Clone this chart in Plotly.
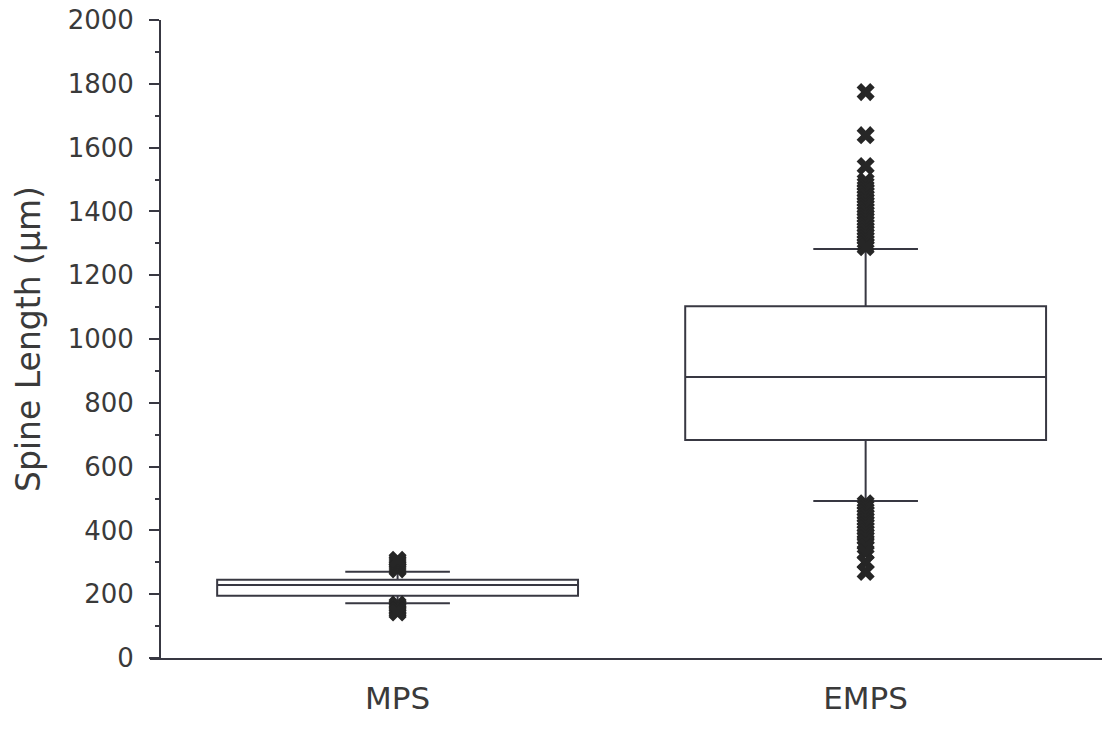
import plotly.graph_objects as go

# ---- data ----
categories = ["MPS", "EMPS"]
q1_vals = [195, 683]
median_vals = [229, 881]
q3_vals = [245, 1103]
lower_fence = [172, 492]
upper_fence = [270, 1282]

mps_outliers = [278, 284, 290, 296, 302, 308, 168, 163, 158, 153, 148, 143]
emps_outliers = [1774, 1639, 1542, 1495, 1485, 1475, 1465, 1455, 1445, 1435,
                 1425, 1415, 1405, 1395, 1385, 1375, 1365, 1355, 1345, 1335,
                 1325, 1315, 1305, 1295, 1288,
                 485, 475, 465, 455, 445, 435, 425, 415, 405, 395, 385, 375,
                 362, 348, 330, 300, 270]

y_ticks = list(range(0, 2001, 200))

line_col = "#383842"
text_col = "#3a3a3a"
font_family = "DejaVu Sans"

fig = go.Figure()

fig.add_trace(go.Box(
    x=categories,
    q1=q1_vals, median=median_vals, q3=q3_vals,
    lowerfence=lower_fence, upperfence=upper_fence,
    boxpoints=False,
    width=0.771,
    whiskerwidth=0.29,
    fillcolor="rgba(255,255,255,0)",
    line=dict(color=line_col, width=2),
    showlegend=False,
    hoverinfo="skip",
))

fig.add_trace(go.Scatter(
    x=["MPS"] * len(mps_outliers) + ["EMPS"] * len(emps_outliers),
    y=mps_outliers + emps_outliers,
    mode="markers",
    marker=dict(symbol="x", size=16, color="#262626", line=dict(width=0)),
    showlegend=False,
    hoverinfo="skip",
))

fig.update_layout(
    width=1112, height=730,
    margin=dict(l=150, r=10, t=20, b=72, autoexpand=False),
    paper_bgcolor="white", plot_bgcolor="white",
    font=dict(family=font_family, color=text_col),
)

fig.update_xaxes(
    type="category",
    categoryorder="array", categoryarray=categories,
    range=[-0.529, 1.505],
    showline=True, linecolor=line_col, linewidth=2,
    ticks="", showgrid=False, zeroline=False,
    tickfont=dict(size=31, family=font_family, color=text_col),
    ticklabelstandoff=12,
    automargin=False,
)

fig.update_yaxes(
    range=[0, 2000],
    tickvals=y_ticks,
    anchor="free", position=10 / 952,
    showline=True, linecolor=line_col, linewidth=2,
    ticks="outside", ticklen=10, tickwidth=2, tickcolor=line_col,
    minor=dict(ticks="outside", ticklen=4, tickwidth=2, dtick=100, tickcolor=line_col, showgrid=False),
    showgrid=False, zeroline=False,
    tickfont=dict(size=26, family=font_family, color=text_col),
    ticklabelstandoff=10,
    ticklabeloverflow="allow",
    automargin=False,
    title=dict(text="Spine Length (µm)", font=dict(size=33, family=font_family, color=text_col), standoff=16),
)

fig.write_html("out.html", config={"displayModeBar": False},
               post_script="document.body.style.margin='0';")
